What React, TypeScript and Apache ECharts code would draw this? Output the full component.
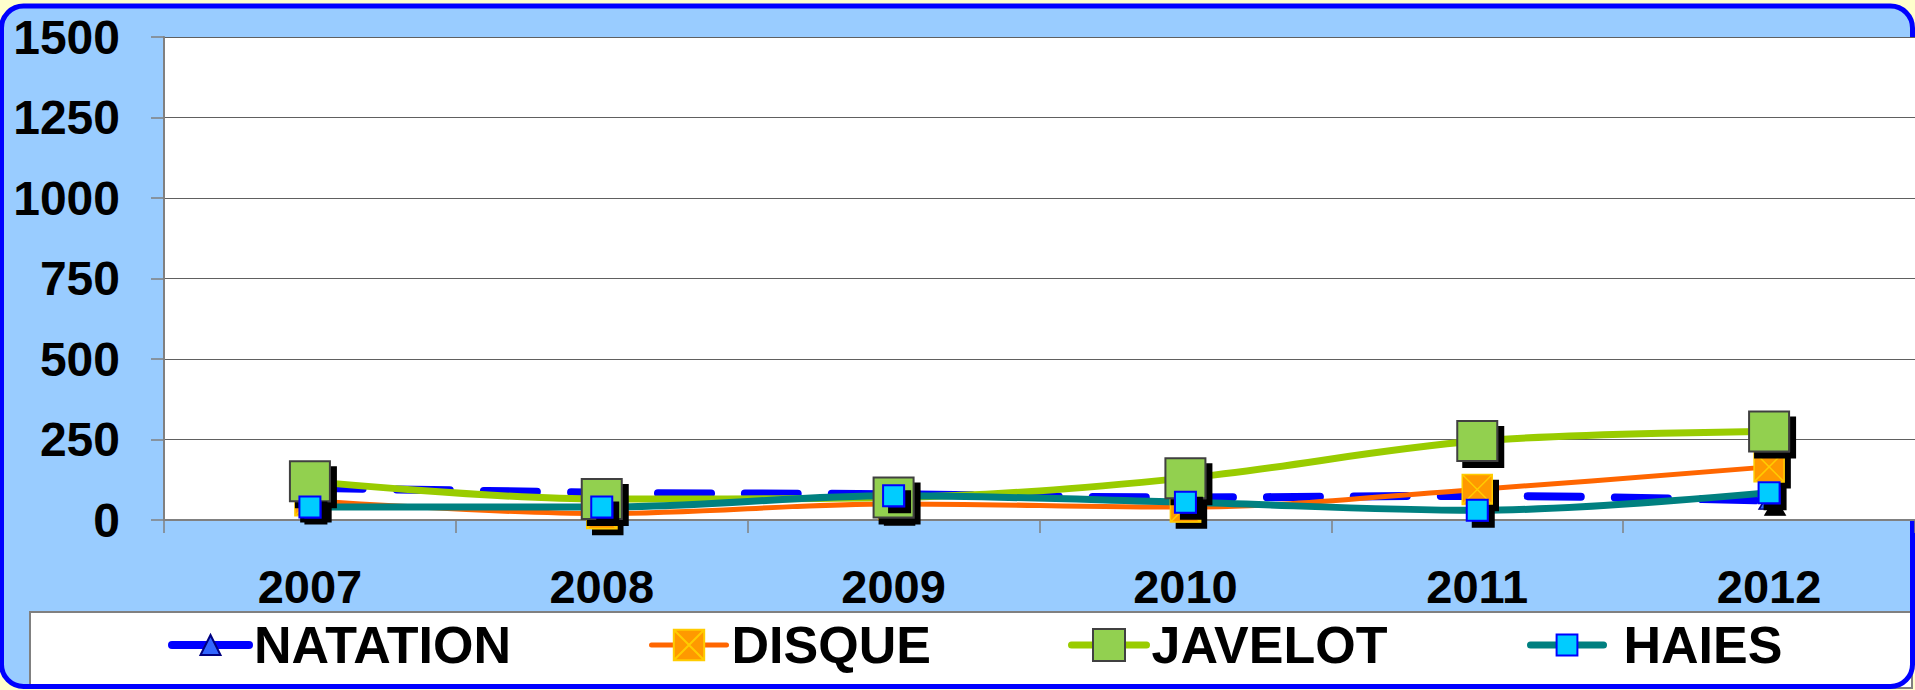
import React, { useEffect, useRef } from "react";
import * as echarts from "echarts";

const categories = ["2007", "2008", "2009", "2010", "2011", "2012"];
const natation = [100, 85, 80, 70, 75, 60];
const disque = [60, 20, 50, 40, 95, 165];
const javelot = [120, 65, 70, 130, 245, 275];
const haies = [40, 40, 75, 55, 30, 85];
const seriesNames = ["NATATION", "DISQUE", "JAVELOT", "HAIES"];
const yTicks = { min: 0, max: 1500, interval: 250 };

const FONT = "'Liberation Sans', Arial, Helvetica, sans-serif";
const SHADOW = { shadowColor: "#000", shadowBlur: 0, shadowOffsetX: 6, shadowOffsetY: 6 };
const XBOX = "path://M0,0L20,0L20,20L0,20Z M0,0L20,20 M20,0L0,20";

// legend layout (styles, not data)
const legendLeft = [168, 649, 1068, 1527];
const legendIconW = [77, 75, 75, 73];
const legendIconH = [25, 38, 40, 26];
const legendLineW = [8, 5, 7, 7];
const legendTextPad = [0, 0, 0, 15];

export default function App() {
  const ref = useRef<HTMLDivElement>(null);
  useEffect(() => {
    if (!ref.current) return;
    const chart = echarts.init(ref.current, undefined, { renderer: "svg" });
    const option: any = {
      animation: false,
      backgroundColor: "#FFFFCC",
      graphic: [
        {
          type: "rect",
          z: -10,
          shape: { x: 1.5, y: 6, width: 1911, height: 680.5, r: 22 },
          style: { fill: "#99CCFF", stroke: "none" },
        },
        {
          type: "rect",
          z: -9,
          shape: { x: 30, y: 612, width: 1882, height: 76 },
          style: { fill: "#FFFFFF", stroke: "#808080", lineWidth: 2 },
        },
        {
          type: "rect",
          z: -8,
          shape: { x: 1.5, y: 6, width: 1911, height: 680.5, r: 22 },
          style: { fill: "none", stroke: "#0000FF", lineWidth: 5 },
        },
      ],
      grid: {
        left: 164,
        top: 37,
        bottom: 170,
        right: -7,
        show: true,
        backgroundColor: "#FFFFFF",
        borderWidth: 0,
      },
      xAxis: {
        type: "category",
        data: categories,
        boundaryGap: true,
        axisLine: { lineStyle: { color: "#808080", width: 2 } },
        axisTick: { show: true, length: 13, lineStyle: { color: "#808080", width: 1.5 } },
        axisLabel: {
          color: "#000",
          fontSize: 47,
          fontWeight: "bold",
          fontFamily: FONT,
          margin: 43,
        },
        splitLine: { show: false },
      },
      yAxis: {
        type: "value",
        min: yTicks.min,
        max: yTicks.max,
        interval: yTicks.interval,
        axisLine: { show: true, lineStyle: { color: "#808080", width: 2 } },
        axisTick: { show: true, length: 13, lineStyle: { color: "#808080", width: 1.5 } },
        axisLabel: {
          color: "#000",
          fontSize: 48,
          fontWeight: "bold",
          fontFamily: FONT,
          margin: 44,
          formatter: (v: number) => String(v),
        },
        splitLine: { show: true, lineStyle: { color: "#606060", width: 1.2 } },
      },
      legend: seriesNames.map((name, i) => ({
        data: [name],
        left: legendLeft[i],
        top: 649 - 30,
        height: 60,
        itemWidth: legendIconW[i],
        itemHeight: legendIconH[i],
        padding: 0,
        itemGap: 0,
        selectedMode: false,
        lineStyle: { type: "solid", cap: "round", width: legendLineW[i] },
        textStyle: {
          color: "#000",
          fontSize: 52,
          fontWeight: "bold",
          fontFamily: FONT,
          padding: [0, 0, 0, legendTextPad[i]],
        },
      })),
      series: [
        {
          name: seriesNames[0],
          type: "line",
          data: natation,
          smooth: 0.35,
          symbol: "triangle",
          symbolSize: [20, 17],
          lineStyle: { color: "#0000FF", width: 8, type: [53, 34], cap: "round" },
          itemStyle: { color: "#3366FF", borderColor: "#000080", borderWidth: 1.5, ...SHADOW },
        },
        {
          name: seriesNames[1],
          type: "line",
          data: disque,
          smooth: 0.35,
          symbol: XBOX,
          symbolSize: 30,
          lineStyle: { color: "#FF6600", width: 5 },
          itemStyle: { color: "#FF9900", borderColor: "#FFCC00", borderWidth: 1.5, ...SHADOW },
        },
        {
          name: seriesNames[2],
          type: "line",
          data: javelot,
          smooth: 0.35,
          symbol: "rect",
          symbolSize: 40,
          lineStyle: { color: "#99CC00", width: 7 },
          itemStyle: { color: "#92D050", borderColor: "#404040", borderWidth: 2, ...SHADOW },
        },
        {
          name: seriesNames[3],
          type: "line",
          data: haies,
          smooth: 0.35,
          symbol: "rect",
          symbolSize: 21,
          lineStyle: { color: "#008080", width: 7 },
          itemStyle: { color: "#00CCFF", borderColor: "#0000FF", borderWidth: 2, ...SHADOW },
        },
      ],
    };
    chart.setOption(option);
    return () => chart.dispose();
  }, []);
  return (
    <div
      ref={ref}
      style={{ position: "fixed", left: 0, top: 0, width: 1915, height: 690 }}
    />
  );
}
